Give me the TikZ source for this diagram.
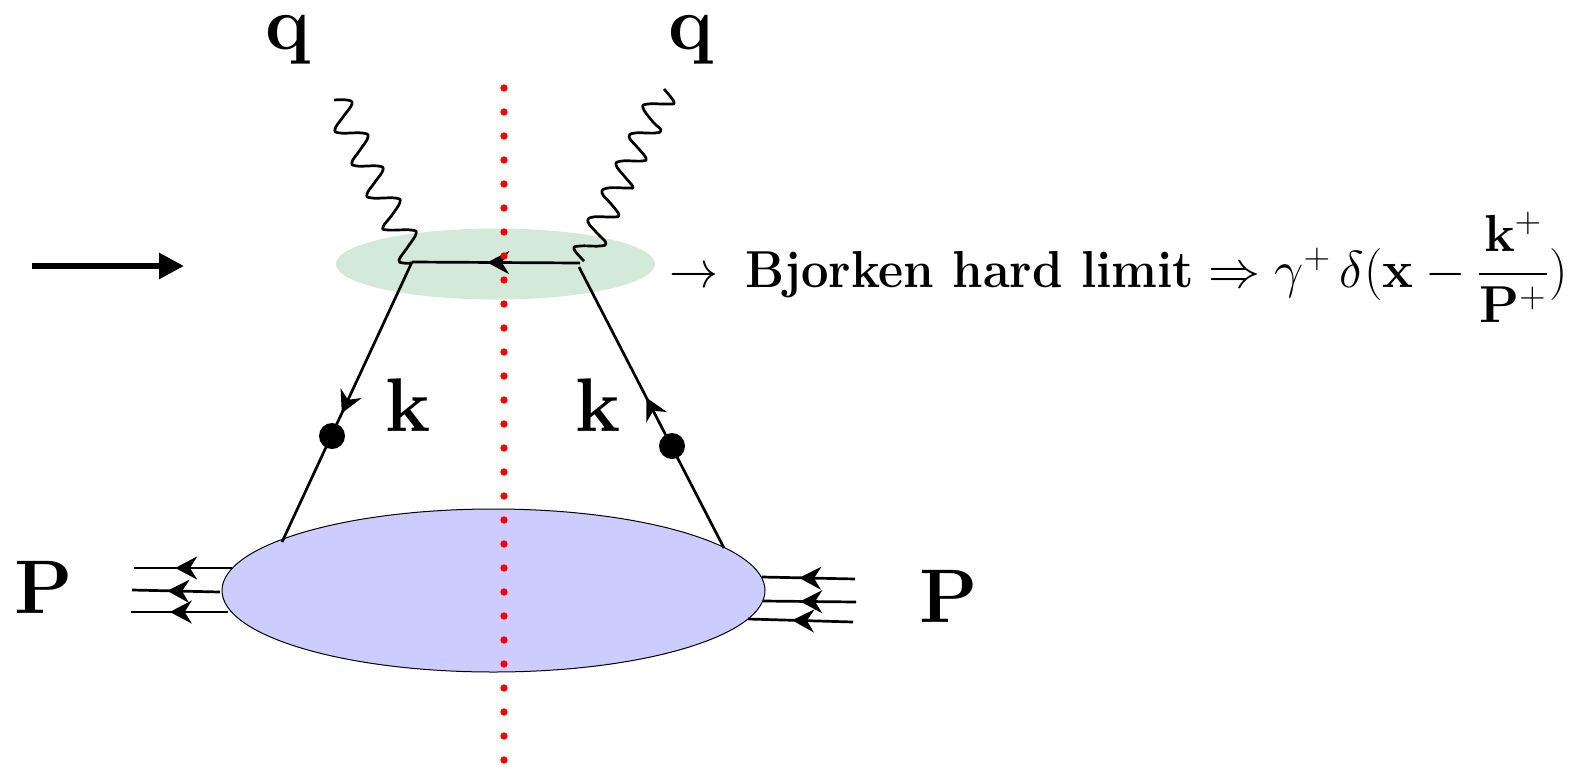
\RequirePackage{fix-cm}
\documentclass[tikz,border=0pt]{standalone}
\usepackage{amsmath}
\usepackage{graphicx}
\usetikzlibrary{arrows.meta,decorations.markings,shapes.geometric}
\tikzset{
  x=0.5pt,y=-0.5pt,
  big/.style={inner sep=0pt,anchor=base,font=\fontsize{38}{42}\selectfont\bfseries},
  wave/.style={line width=1.35pt,line join=round},
  fermion/.style={line width=1.35pt},
  arrowat/.style={postaction={decorate},decoration={markings,mark=at position #1 with {\arrow{Stealth[length=11pt,width=11.5pt,inset=3.6pt]}}}},
  vertexdot/.style={circle,fill=black,inner sep=0pt,minimum size=13pt},
  cutdot/.style={circle,fill=red,inner sep=0pt,minimum size=3.7pt},
}
\begin{document}
\begin{tikzpicture}
\useasboundingbox (0,0) rectangle (1569,766);
% blobs
\node (hard) [fill={rgb,255:red,211;green,233;blue,218},ellipse,inner sep=0pt,minimum width=159.5pt,minimum height=35.5pt] at (495.5,264) {};
\node (blob) [draw=black,line width=0.5pt,fill={rgb,255:red,204;green,204;blue,255},ellipse,inner sep=0pt,minimum width=271.5pt,minimum height=81.5pt] at (493.5,590.5) {};
% named points
\coordinate (vl) at (412,262);
\coordinate (vr) at (580,263);
\coordinate (vrb) at (579,267);
\coordinate (bl) at (282,542);
\coordinate (br) at (724,548);
% fermion lines
\draw[fermion,arrowat=0.553] (vr) -- (vl);
\draw[fermion,arrowat=0.54] (vl) -- (bl);
\draw[fermion,arrowat=0.535] (br) -- (vrb);
\node (dl) [vertexdot] at (332,436) {};
\node (dr) [vertexdot] at (672,446) {};
% photons
\draw[wave] plot[smooth,tension=.7] coordinates {(334,100)(347,100)(352,104)(343,117)(335,129)(340,133)(362,133)(368,137)(360,150)(352,162)(357,166)(378,166)(383,170)(375,182)(367,194)(372,198)(395,198)(400,202)(392,215)(383,227)(388,230)(411,230)(416,234)(407,248)(399,260)(403,263)(412,263)};
\draw[wave] plot[smooth,tension=.7] coordinates {(664,89)(674,102)(668,104)(648,104)(643,108)(653,122)(661,130)(655,133)(635,133)(629,137)(638,148)(646,158)(642,161)(622,161)(616,165)(625,177)(633,187)(628,188)(608,188)(602,193)(612,205)(619,215)(613,217)(593,217)(588,222)(597,233)(606,243)(600,246)(580,246)(574,249)(584,261)};
% proton lines, left
\coordinate (pl1) at (134,568); \coordinate (pl1e) at (232,568);
\coordinate (pl2) at (132,590); \coordinate (pl2e) at (220,592);
\coordinate (pl3) at (131,612); \coordinate (pl3e) at (228,612);
\draw[fermion,arrowat=0.58] (pl1e) -- (pl1);
\draw[fermion,arrowat=0.60] (pl2e) -- (pl2);
\draw[fermion,arrowat=0.60] (pl3e) -- (pl3);
% proton lines, right
\coordinate (pr1) at (855,579); \coordinate (pr1e) at (762,577);
\coordinate (pr2) at (856,602); \coordinate (pr2e) at (763,601);
\coordinate (pr3) at (853,622); \coordinate (pr3e) at (748,619);
\draw[fermion,arrowat=0.60] (pr1) -- (pr1e);
\draw[fermion,arrowat=0.60] (pr2) -- (pr2e);
\draw[fermion,arrowat=0.58] (pr3) -- (pr3e);
% cut
\foreach \i in {0,...,28} {\node (cut\i) [cutdot] at (504,88+24*\i) {};}
% momentum arrow
\coordinate (ma) at (32,266);
\coordinate (mb) at (184,266);
\draw[line width=2.9pt,-{Stealth[length=12.5pt,width=12.5pt,inset=0pt]}] (ma) -- (mb);
% labels
\node (q1) [big] at (288,49) {q};
\node (q2) [big] at (691,49) {q};
\node (k1) [big] at (408,431) {k};
\node (k2) [big] at (598,431) {k};
\node (p1) [big] at (44,613) {P};
\node (p2) [big] at (949,622) {P};
\node (form) [inner sep=0pt,anchor=base west,font=\fontsize{26}{30}\selectfont\bfseries] at (669,287)
 {\scalebox{0.94}[1]{$\rightarrow$\hspace{0.55em}Bjorken hard limit}\hspace{-0.11em} $\Rightarrow\gamma^{+}\,\delta(\mathbf{x}-\dfrac{\mathbf{k}^{+}}{\mathbf{P}^{+}})$};
\end{tikzpicture}
\end{document}
